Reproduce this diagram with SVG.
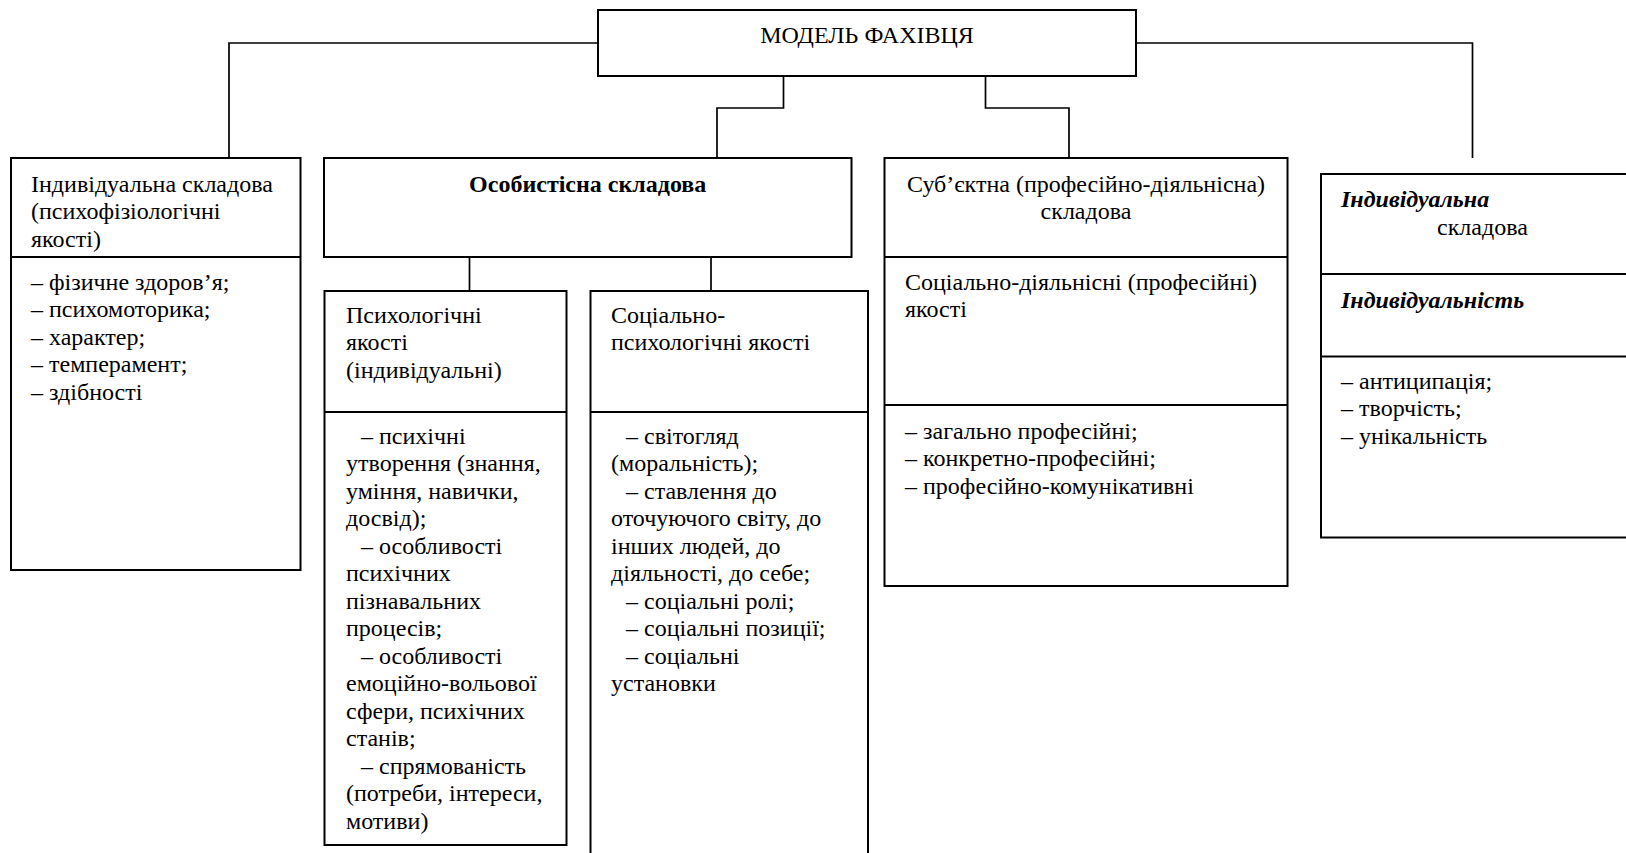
<svg xmlns="http://www.w3.org/2000/svg" width="1626" height="853" viewBox="0 0 1626 853">
<style>
.box{fill:#fff;stroke:#000;stroke-width:2}
.div{stroke:#000;stroke-width:2}
.con{fill:none;stroke:#000;stroke-width:1.7}
text{font-family:"Liberation Serif","Times New Roman",serif;font-size:24px;fill:#000}
.c{text-anchor:middle}
.b{font-weight:bold}
.bi{font-weight:bold;font-style:italic}
</style>
<rect width="1626" height="853" fill="#fff"/>
<g id="connectors">
<polyline class="con" points="598,43 229,43 229,158"/>
<polyline class="con" points="1136,43 1472.5,43 1472.5,158"/>
<polyline class="con" points="783.5,76 783.5,108 717,108 717,158"/>
<polyline class="con" points="985.5,76 985.5,108 1069,108 1069,158"/>
<line class="con" x1="469.5" y1="257" x2="469.5" y2="291"/>
<line class="con" x1="711" y1="257" x2="711" y2="291"/>
</g>
<g id="main">
<rect class="box" x="598" y="10" width="538" height="66"/>
<text class="c" x="867" y="43">МОДЕЛЬ ФАХІВЦЯ</text>
</g>
<g id="individual">
<rect class="box" x="11" y="158" width="289.5" height="412"/>
<line class="div" x1="11" y1="257" x2="300.5" y2="257"/>
<text x="31" y="191.5">Індивідуальна складова</text>
<text x="31" y="219">(психофізіологічні</text>
<text x="31" y="246.5">якості)</text>
<text x="31" y="289.5">– фізичне здоров’я;</text>
<text x="31" y="317">– психомоторика;</text>
<text x="31" y="344.5">– характер;</text>
<text x="31" y="372">– темперамент;</text>
<text x="31" y="399.5">– здібності</text>
</g>
<g id="personal">
<rect class="box" x="324" y="158" width="527.5" height="99"/>
<text class="c b" x="587.7" y="191.5">Особистісна складова</text>
</g>
<g id="psych">
<rect class="box" x="324.5" y="291" width="242" height="554"/>
<line class="div" x1="324.5" y1="412" x2="566.5" y2="412"/>
<text x="346" y="322.5">Психологічні</text>
<text x="346" y="350">якості</text>
<text x="346" y="377.5">(індивідуальні)</text>
<text x="361" y="443.5">– психічні</text>
<text x="346" y="471">утворення (знання,</text>
<text x="346" y="498.5">уміння, навички,</text>
<text x="346" y="526">досвід);</text>
<text x="361" y="553.5">– особливості</text>
<text x="346" y="581">психічних</text>
<text x="346" y="608.5">пізнавальних</text>
<text x="346" y="636">процесів;</text>
<text x="361" y="663.5">– особливості</text>
<text x="346" y="691">емоційно-вольової</text>
<text x="346" y="718.5">сфери, психічних</text>
<text x="346" y="746">станів;</text>
<text x="361" y="773.5">– спрямованість</text>
<text x="346" y="801">(потреби, інтереси,</text>
<text x="346" y="828.5">мотиви)</text>
</g>
<g id="social">
<rect class="box" x="590.5" y="291" width="277.5" height="570"/>
<line class="div" x1="590.5" y1="412" x2="868" y2="412"/>
<text x="611" y="322.5">Соціально-</text>
<text x="611" y="350">психологічні якості</text>
<text x="626" y="443.5">– світогляд</text>
<text x="611" y="471">(моральність);</text>
<text x="626" y="498.5">– ставлення до</text>
<text x="611" y="526">оточуючого світу, до</text>
<text x="611" y="553.5">інших людей, до</text>
<text x="611" y="581">діяльності, до себе;</text>
<text x="626" y="608.5">– соціальні ролі;</text>
<text x="626" y="636">– соціальні позиції;</text>
<text x="626" y="663.5">– соціальні</text>
<text x="611" y="691">установки</text>
</g>
<g id="subject">
<rect class="box" x="884.5" y="158" width="403" height="428"/>
<line class="div" x1="884.5" y1="257" x2="1287.5" y2="257"/>
<line class="div" x1="884.5" y1="405" x2="1287.5" y2="405"/>
<text class="c" x="1086" y="191.5">Суб’єктна (професійно-діяльнісна)</text>
<text class="c" x="1086" y="218.5">складова</text>
<text x="905" y="289.5">Соціально-діяльнісні (професійні)</text>
<text x="905" y="317">якості</text>
<text x="905" y="438.5">– загально професійні;</text>
<text x="905" y="466">– конкретно-професійні;</text>
<text x="905" y="493.5">– професійно-комунікативні</text>
</g>
<g id="individuality">
<rect class="box" x="1321" y="174" width="330" height="363.5"/>
<line class="div" x1="1321" y1="274" x2="1651" y2="274"/>
<line class="div" x1="1321" y1="356.5" x2="1651" y2="356.5"/>
<text class="bi" x="1341" y="206.5">Індивідуальна</text>
<text x="1437" y="234.5">складова</text>
<text class="bi" x="1341" y="307.5">Індивідуальність</text>
<text x="1341" y="388.5">– антиципація;</text>
<text x="1341" y="416">– творчість;</text>
<text x="1341" y="443.5">– унікальність</text>
</g>
</svg>
